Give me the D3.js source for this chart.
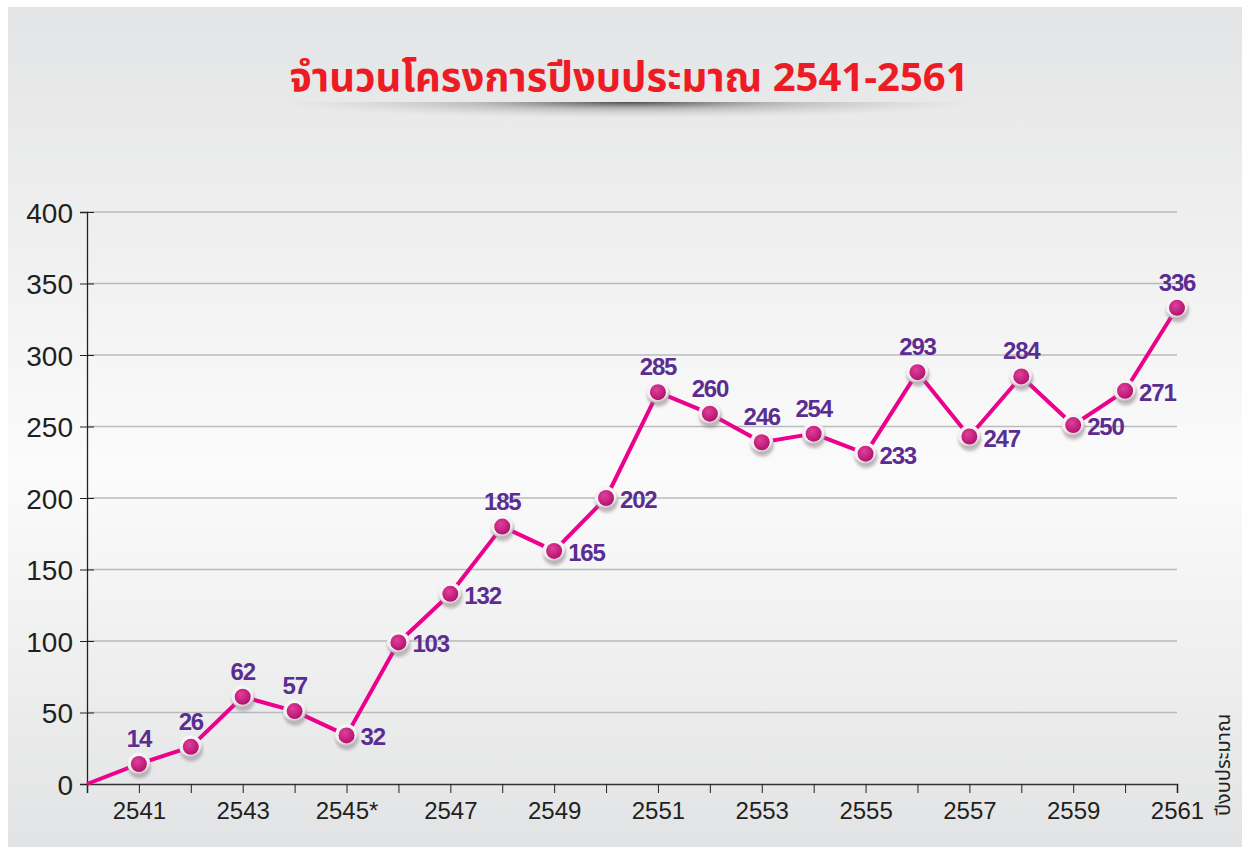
<!DOCTYPE html>
<html>
<head>
<meta charset="utf-8">
<script src="https://cdn.jsdelivr.net/npm/d3@7"></script>
<style>
  body { margin: 0; background: #fff; }
  svg { display: block; }
</style>
</head>
<body>
<script>
const width = 1250, height = 854;

// years on the x axis (2540 is the origin point)
const years = [2540, 2541, 2542, 2543, 2544, 2545, 2546, 2547, 2548, 2549, 2550,
               2551, 2552, 2553, 2554, 2555, 2556, 2557, 2558, 2559, 2560, 2561];
// point heights as drawn in the picture
const values = [0, 14, 26, 61, 51, 34, 99, 133, 180, 163, 200,
                274, 259, 239, 245, 231, 288, 243, 285, 251, 275, 333];
// printed labels next to the points
const labels = ["", "14", "26", "62", "57", "32", "103", "132", "185", "165", "202",
                "285", "260", "246", "254", "233", "293", "247", "284", "250", "271", "336"];
// labels that sit to the right of the point, the others sit above
const rightSide = [2545, 2546, 2547, 2549, 2550, 2555, 2557, 2559, 2560];
const yTicks = [0, 50, 100, 150, 200, 250, 300, 350, 400];
const xTickLabels = {2541: "2541", 2543: "2543", 2545: "2545*", 2547: "2547", 2549: "2549",
                     2551: "2551", 2553: "2553", 2555: "2555", 2557: "2557", 2559: "2559", 2561: "2561"};

const svg = d3.select("body").append("svg")
    .attr("width", width)
    .attr("height", height);

const defs = svg.append("defs");

const bg = defs.append("linearGradient").attr("id", "bg")
    .attr("x1", 0).attr("y1", 0).attr("x2", 0).attr("y2", 1);
bg.append("stop").attr("offset", "0%").attr("stop-color", "#e3e4e5");
bg.append("stop").attr("offset", "55%").attr("stop-color", "#fbfbfb");
bg.append("stop").attr("offset", "100%").attr("stop-color", "#e2e3e4");

const shade = defs.append("radialGradient").attr("id", "shade")
    .attr("cx", "50%").attr("cy", "50%").attr("r", "50%");
shade.append("stop").attr("offset", "0%").attr("stop-color", "#3a3a3a").attr("stop-opacity", 0.9);
shade.append("stop").attr("offset", "45%").attr("stop-color", "#8a8a8a").attr("stop-opacity", 0.45);
shade.append("stop").attr("offset", "100%").attr("stop-color", "#bbb").attr("stop-opacity", 0);

defs.append("clipPath").attr("id", "lowerHalf")
  .append("rect").attr("x", 200).attr("y", 102).attr("width", 860).attr("height", 30);

const dot = defs.append("radialGradient").attr("id", "dot")
    .attr("cx", "40%").attr("cy", "35%").attr("r", "65%");
dot.append("stop").attr("offset", "0%").attr("stop-color", "#e0409a");
dot.append("stop").attr("offset", "100%").attr("stop-color", "#b3126f");

const ring = defs.append("radialGradient").attr("id", "ring")
    .attr("cx", "45%").attr("cy", "35%").attr("r", "60%");
ring.append("stop").attr("offset", "0%").attr("stop-color", "#ffffff");
ring.append("stop").attr("offset", "80%").attr("stop-color", "#f2eef0");
ring.append("stop").attr("offset", "100%").attr("stop-color", "#bdb3b8");

const blur = defs.append("filter").attr("id", "blur")
    .attr("x", "-50%").attr("y", "-50%").attr("width", "200%").attr("height", "200%");
blur.append("feGaussianBlur").attr("stdDeviation", 1.6);

// panel
svg.append("rect")
    .attr("x", 8).attr("y", 7)
    .attr("width", width - 16).attr("height", height - 14)
    .attr("fill", "url(#bg)");

// title shadow (lower half of a soft ellipse)
svg.append("ellipse")
    .attr("cx", 630).attr("cy", 102)
    .attr("rx", 350).attr("ry", 16)
    .attr("fill", "url(#shade)")
    .attr("clip-path", "url(#lowerHalf)");

svg.append("text")
    .attr("x", 629).attr("y", 91)
    .attr("text-anchor", "middle")
    .style("font-family", "'Noto Sans Thai', 'Liberation Sans', Arial, sans-serif")
    .style("font-weight", "bold")
    .style("font-size", "40px")
    .style("fill", "#ed1c24")
    .text("จำนวนโครงการปีงบประมาณ 2541-2561");

const x = d3.scaleLinear().domain([2540, 2561]).range([87, 1177]);
const y = d3.scaleLinear().domain([0, 400]).range([784, 212]);

// grid
svg.append("g").selectAll("line")
    .data(yTicks.filter(d => d > 0))
    .enter().append("line")
    .attr("x1", x(2540)).attr("x2", x(2561))
    .attr("y1", d => y(d)).attr("y2", d => y(d))
    .style("stroke", "#b9babc")
    .style("stroke-width", 1.3);

// y axis
const yAxis = svg.append("g")
    .attr("transform", "translate(" + x(2540) + ",0)")
    .call(d3.axisLeft(y).tickValues(yTicks).tickSize(7).tickPadding(7));
yAxis.selectAll(".tick line").attr("x2", -7).attr("x1", 7).style("stroke", "#222");
yAxis.select(".domain").style("stroke", "#222").style("stroke-width", 1.3);
yAxis.selectAll("text")
    .style("font-family", "'Liberation Sans', Arial, sans-serif")
    .style("font-size", "28px")
    .style("fill", "#231f20")
    .attr("dy", "0.36em");

// x axis
const xAxis = svg.append("g")
    .attr("transform", "translate(0," + y(0) + ")")
    .call(d3.axisBottom(x).tickValues(years).tickSize(9).tickPadding(9)
        .tickFormat(d => xTickLabels[d] || ""));
xAxis.select(".domain").style("stroke", "#333").style("stroke-width", 1.6);
xAxis.selectAll(".tick line").style("stroke", "#222");
xAxis.selectAll("text")
    .style("font-family", "'Liberation Sans', Arial, sans-serif")
    .style("font-size", "24px")
    .style("fill", "#231f20");

svg.append("text")
    .attr("transform", "translate(1230,765) rotate(-90)")
    .attr("text-anchor", "middle")
    .style("font-family", "'Noto Sans Thai', 'Liberation Sans', sans-serif")
    .style("font-size", "20px")
    .style("fill", "#231f20")
    .text("ปีงบประมาณ");

// line
const line = d3.line().x((d, i) => x(years[i])).y(d => y(d));
svg.append("path")
    .datum(values)
    .attr("d", line)
    .attr("fill", "none")
    .style("stroke", "#ec008c")
    .style("stroke-width", 4)
    .style("stroke-linejoin", "round");

// points
const pts = svg.append("g").selectAll("g")
    .data(years.slice(1).map((yr, i) => ({year: yr, value: values[i + 1], label: labels[i + 1]})))
    .enter().append("g")
    .attr("transform", d => "translate(" + x(d.year) + "," + y(d.value) + ")");

pts.append("circle")
    .attr("cx", 0.5).attr("cy", 3).attr("r", 11.5)
    .attr("fill", "#7d7076").attr("opacity", 0.45)
    .attr("filter", "url(#blur)");
pts.append("circle")
    .attr("r", 11.5)
    .attr("fill", "url(#ring)");
pts.append("circle")
    .attr("r", 8)
    .attr("fill", "url(#dot)");

pts.append("text")
    .attr("x", d => rightSide.includes(d.year) ? 14 : 0)
    .attr("y", d => rightSide.includes(d.year) ? 10 : -17)
    .attr("text-anchor", d => rightSide.includes(d.year) ? "start" : "middle")
    .style("font-family", "'Liberation Sans', Arial, sans-serif")
    .style("font-weight", "bold")
    .style("font-size", "24px")
    .style("letter-spacing", "-1.2px")
    .style("fill", "#5c2d91")
    .text(d => d.label);
</script>
</body>
</html>
